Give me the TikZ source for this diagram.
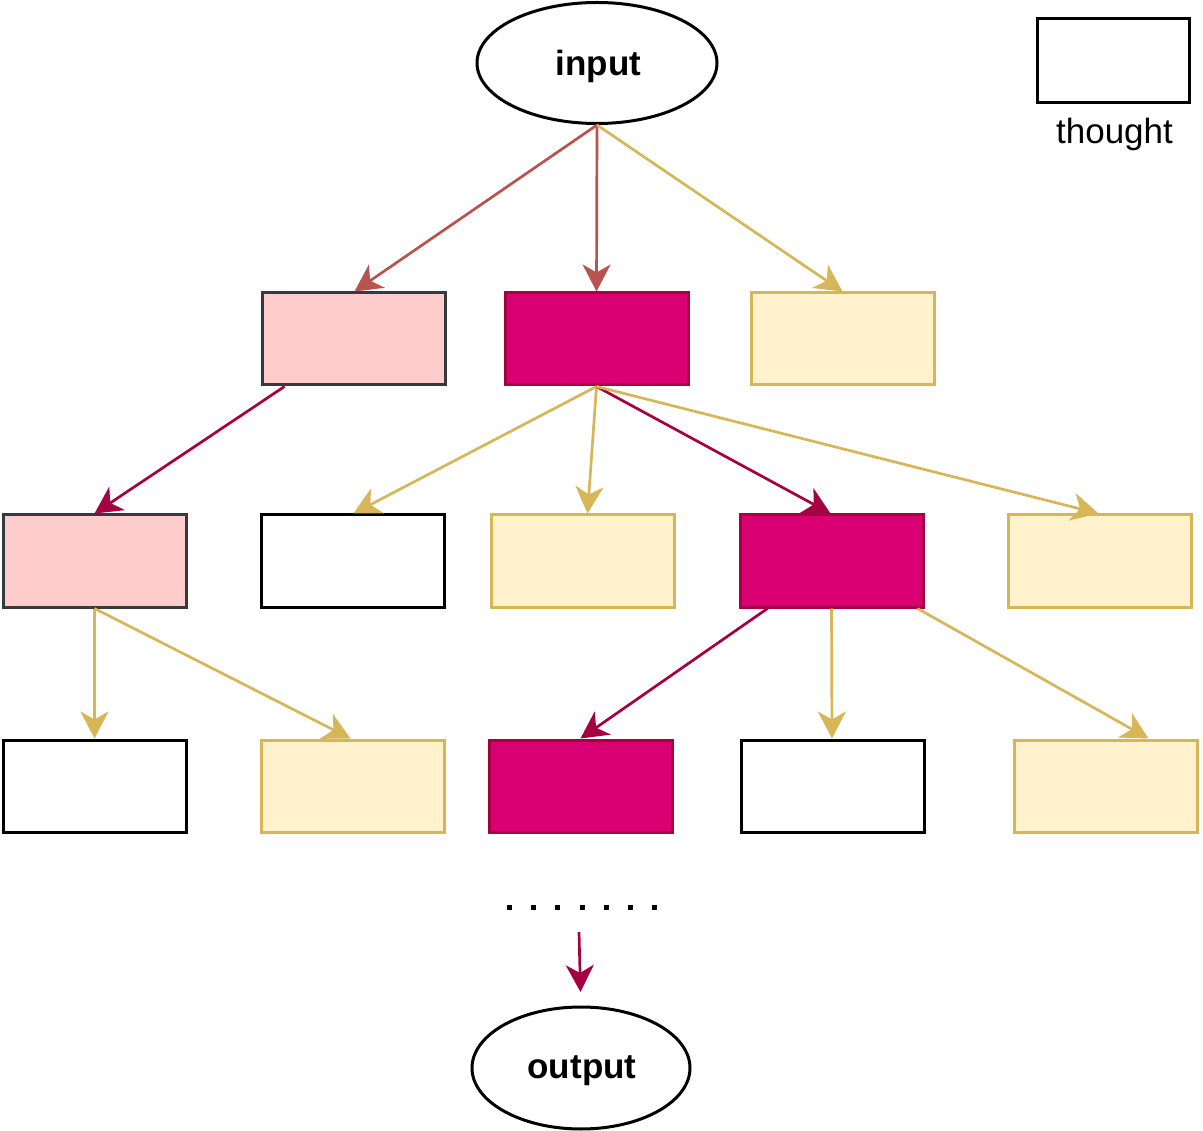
\documentclass[tikz,border=0pt]{standalone}
\usepackage{fontspec}
\setmainfont{Liberation Sans}
\usetikzlibrary{arrows.meta,shapes.geometric}
\definecolor{pinkF}{HTML}{FFCCCC}
\definecolor{pinkD}{HTML}{36393D}
\definecolor{magF}{HTML}{D80073}
\definecolor{magD}{HTML}{A50040}
\definecolor{yelF}{HTML}{FFF2CC}
\definecolor{yelD}{HTML}{D6B656}
\definecolor{redD}{HTML}{B85450}
\tikzset{
  box/.style={rectangle,minimum width=183pt,minimum height=92pt,line width=3pt,inner sep=0pt},
  pinkbox/.style={box,draw=pinkD,fill=pinkF},
  magbox/.style={box,draw=magD,fill=magF},
  yelbox/.style={box,draw=yelD,fill=yelF},
  whitebox/.style={box,draw=black,fill=white},
  oval/.style={ellipse,draw=black,line width=3pt,inner sep=0pt},
  bigtext/.style={font=\fontsize{35}{42}\selectfont\bfseries,anchor=base,inner sep=0pt},
  plaintext/.style={font=\fontsize{35}{42}\selectfont,anchor=base,inner sep=0pt},
  conn/.style={line width=2.7pt,-{Stealth[length=27pt,width=28pt,inset=8pt]}},
  redc/.style={conn,draw=redD,fill=redD},
  magc/.style={conn,draw=magD,fill=magD},
  yelc/.style={conn,draw=yelD,fill=yelD},
}
\begin{document}
\begin{tikzpicture}[x=1pt,y=-1pt]
\useasboundingbox (0,0) rectangle (1203,1131);
% nodes
\node[oval,minimum width=240pt,minimum height=121pt] (in) at (597,63) {};
\node[bigtext] (intext) at (598.5,76) {input};
\node[whitebox,minimum width=152pt,minimum height=84pt] (leg) at (1113,61) {};
\node[plaintext] (legt) at (1114.5,144) {thought};
% row 1
\node[pinkbox] (A) at (353.5,339) {};
\node[magbox] (B) at (596.5,339) {};
\node[yelbox] (C) at (842.5,339) {};
% row 2
\node[pinkbox] (D) at (94.5,561) {};
\node[whitebox] (E) at (352.5,561) {};
\node[yelbox] (F) at (582.5,561) {};
\node[magbox] (G) at (831.5,561) {};
\node[yelbox] (H) at (1099.5,561) {};
% row 3
\node[whitebox] (I) at (94.5,786) {};
\node[yelbox] (J) at (352.5,786) {};
\node[magbox] (K) at (580.5,786) {};
\node[whitebox] (L) at (832.5,786) {};
\node[yelbox] (M) at (1105.5,786) {};
% output
\node[oval,minimum width=218pt,minimum height=122pt] (out) at (581,1068) {};
\node[bigtext] (outtext) at (582,1078) {output};
% connectors
\draw[redc] (in.south) -- ([xshift=1pt]A.north);
\draw[redc] (in.south) -- (B.north);
\draw[yelc] (in.south) -- (C.north);
\draw[magc] ([xshift=-69pt]A.south) -- (D.north);
\draw[yelc] (B.south) -- ([xshift=1pt]E.north);
\draw[yelc] (B.south) -- ([xshift=5pt]F.north);
\draw[magc] (B.south) -- ([xshift=-1pt]G.north);
\draw[yelc] (B.south) -- ([xshift=-1pt]H.north);
\draw[yelc] (D.south) -- (I.north);
\draw[yelc] (D.south) -- ([xshift=-2pt]J.north);
\draw[magc] ([xshift=-64pt]G.south) -- ([xshift=0pt]K.north);
\draw[yelc] (G.south) -- ([xshift=-0.5pt]L.north);
\draw[yelc] ([xshift=86pt]G.south) -- ([xshift=43pt]M.north);
% dots and final arrow
\coordinate (d0) at (507,907);
\coordinate (d1) at (660,907);
\draw[line width=5pt,dash pattern=on 5pt off 19.2pt] (d0) -- (d1);
\coordinate (fa) at (579,932);
\coordinate (fb) at (580.5,992);
\draw[magc] (fa) -- (fb);
\end{tikzpicture}
\end{document}
